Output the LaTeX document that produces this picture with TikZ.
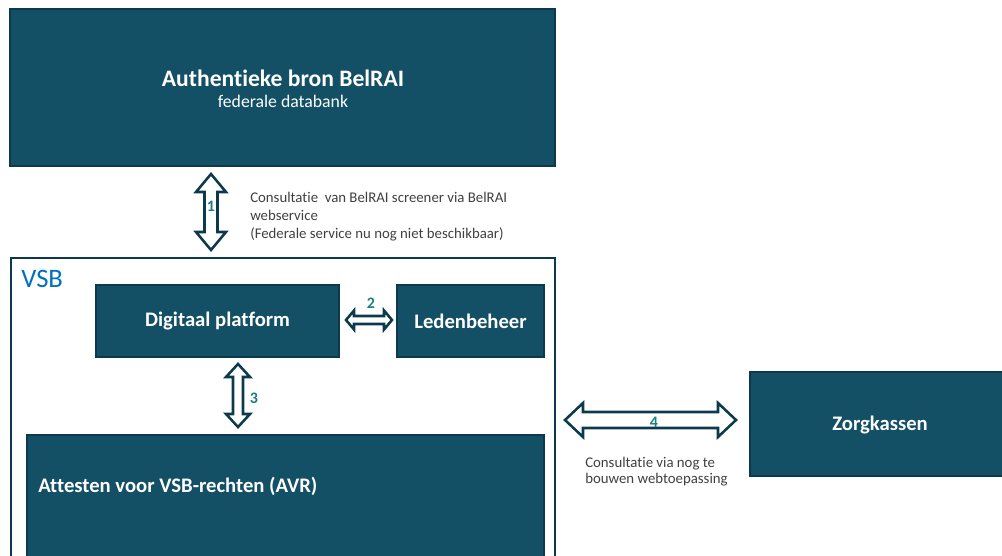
\documentclass[tikz,border=0pt]{standalone}
\usepackage{fontspec}
\setmainfont{Carlito}[Ligatures=NoCommon]
\usetikzlibrary{fit}
\definecolor{boxfill}{RGB}{19,79,101}
\definecolor{boxline}{RGB}{12,57,75}
\definecolor{numcol}{RGB}{30,125,130}
\definecolor{txtgrey}{RGB}{64,64,64}
\definecolor{vsbblue}{RGB}{0,112,192}
\tikzset{
  box/.style={draw=boxline, fill=boxfill, line width=1.5pt, inner sep=0pt},
  frame/.style={draw=boxline, fill=white, line width=1.6pt, inner sep=0pt},
  arr/.style={draw=boxline, fill=white, line width=1.9pt, line join=miter},
  boxtxt/.style={text=white, font=\fontsize{15.5pt}{18pt}\selectfont\bfseries, inner sep=0pt},
  num/.style={text=numcol, font=\fontsize{12pt}{14pt}\selectfont\bfseries, inner sep=0pt},
  note/.style={text=txtgrey, font=\fontsize{11.1pt}{13.5pt}\selectfont, align=left, inner sep=0pt}
}
\newcommand{\vdarr}[6]{% x, ytop, ybot, shaft half, head half, head length
  \draw[arr] (#1,#2) -- (#1+#5,#2+#6) -- (#1+#4,#2+#6) -- (#1+#4,#3-#6) -- (#1+#5,#3-#6) -- (#1,#3)
    -- (#1-#5,#3-#6) -- (#1-#4,#3-#6) -- (#1-#4,#2+#6) -- (#1-#5,#2+#6) -- cycle;}
\newcommand{\hdarr}[6]{% y, xleft, xright, shaft half, head half, head length
  \draw[arr] (#2,#1) -- (#2+#6,#1-#5) -- (#2+#6,#1-#4) -- (#3-#6,#1-#4) -- (#3-#6,#1-#5) -- (#3,#1)
    -- (#3-#6,#1+#5) -- (#3-#6,#1+#4) -- (#2+#6,#1+#4) -- (#2+#6,#1+#5) -- cycle;}
\begin{document}
\begin{tikzpicture}[x=0.75pt,y=-0.75pt]
\useasboundingbox (0,0) rectangle (1002,556);
\clip (0,0) rectangle (1002,556);
% top box
\node[box, fit={(10,9)(555,166)}] (bron) {};
\node[text=white, font=\fontsize{17.7pt}{20pt}\selectfont\bfseries, inner sep=0pt] (bront) at (283,78) {Authentieke bron BelRAI};
\node[text=white, font=\fontsize{13.3pt}{16pt}\selectfont, inner sep=0pt] (bronsub) at (283,101) {federale databank};
% VSB frame
\node[frame, fit={(11,258)(555,570)}] (vsb) {};
\node[text=vsbblue, font=\fontsize{20pt}{23pt}\selectfont, inner sep=0pt, anchor=west] (vsbt) at (21,279) {VSB};
% inner boxes
\node[box, fit={(96,285)(339,357)}] (dp) {};
\node[boxtxt] at (dp.center) {Digitaal platform};
\node[box, fit={(397,285)(544,357)}] (lb) {};
\node[boxtxt] at (lb.center) {Ledenbeheer};
\node[box, fit={(27,435)(544,570)}] (avr) {};
\node[boxtxt, anchor=west] (avrt) at (38,486) {Attesten voor VSB-rechten (AVR)};
\node[box, fit={(750,372)(1010,476)}] (zk) {};
\node[boxtxt] (zkt) at (880,425) {Zorgkassen};
% arrows
\vdarr{211}{174}{250}{6.5}{15}{18}
\node[num] (n1) at (211,206) {1};
\node[note, anchor=north west] (t1) at (250,192) {Consultatie\ \ van BelRAI screener via BelRAI\\webservice\\(Federale service nu nog niet beschikbaar)};
\hdarr{320}{346}{392}{4}{9.5}{8}
\node[num] (n2) at (371,303) {2};
\vdarr{238}{364}{427}{5}{12}{13}
\node[num] (n3) at (254,398) {3};
\hdarr{420}{565}{736}{8}{17}{18}
\node[num] (n4) at (654,422) {4};
\node[note, anchor=north west, font=\fontsize{11.1pt}{12.2pt}\selectfont] (t4) at (585,457) {Consultatie via nog te\\bouwen webtoepassing};
\end{tikzpicture}
\end{document}
